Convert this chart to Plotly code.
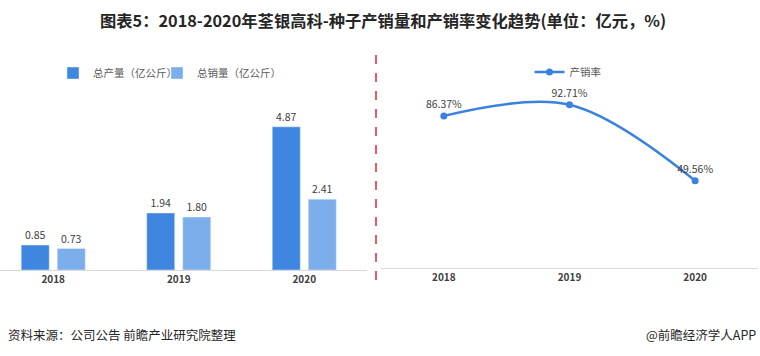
import plotly.graph_objects as go

years = ["2018", "2019", "2020"]
production = [0.85, 1.94, 4.87]
sales = [0.73, 1.80, 2.41]
rate = [86.37, 92.71, 49.56]

W, H = 760, 356
FONT = "Noto Sans CJK SC"

def px_x(p):
    return p / W

def px_y(p):
    return 1 - p / H

fig = go.Figure()

fig.add_trace(go.Bar(
    x=years, y=production, name="总产量（亿公斤）",
    marker=dict(color="#3f86e0"), text=[f"{v:.2f}" for v in production],
    textposition="outside", cliponaxis=False,
    textfont=dict(size=10.5, color="#404040", family=FONT),
    xaxis="x", yaxis="y", legend="legend",
))
fig.add_trace(go.Bar(
    x=years, y=sales, name="总销量（亿公斤）",
    marker=dict(color="#7daeec"), text=[f"{v:.2f}" for v in sales],
    textposition="outside", cliponaxis=False,
    textfont=dict(size=10.5, color="#404040", family=FONT),
    xaxis="x", yaxis="y", legend="legend3",
))
fig.add_trace(go.Scatter(
    x=years, y=rate, name="产销率", mode="lines+markers+text",
    line=dict(color="#3b82e0", width=2.5, shape="spline", smoothing=1.0),
    marker=dict(size=7, color="#3b82e0"),
    text=[f"{v:.2f}%" for v in rate], textposition="top center",
    textfont=dict(size=10.5, color="#404040", family=FONT),
    cliponaxis=False,
    xaxis="x2", yaxis="y2", legend="legend2",
))

tickfont = dict(size=10, color="#404040", family=FONT, weight="bold")
legfont = dict(size=10.5, color="#595959")

fig.update_layout(
    width=W, height=H,
    margin=dict(l=0, r=0, t=0, b=0),
    paper_bgcolor="white", plot_bgcolor="white",
    font=dict(family=FONT, color="#404040"),
    barmode="group", bargap=0.426, bargroupgap=0.222,
    showlegend=True,
    xaxis=dict(domain=[px_x(0), px_x(367)], range=[-0.424, 2.5], type="category",
               showline=True, linecolor="#d9d9d9", linewidth=1, ticks="",
               tickfont=tickfont,
               showgrid=False, zeroline=False, anchor="y", fixedrange=True),
    yaxis=dict(domain=[px_y(270), px_y(60)], range=[0, 210 / 29.4], visible=False,
               showgrid=False, zeroline=False, anchor="x"),
    xaxis2=dict(domain=[px_x(381), px_x(758)], range=[-0.5, 2.5], type="category",
                showline=True, linecolor="#d9d9d9", linewidth=1, ticks="",
                tickfont=tickfont,
                showgrid=False, zeroline=False, anchor="y2"),
    yaxis2=dict(domain=[px_y(268), px_y(60)], range=[0, 208 / 1.761], visible=False,
                showgrid=False, zeroline=False, anchor="x2"),
    legend=dict(orientation="h", x=px_x(53), xanchor="left", y=px_y(73), yanchor="middle",
                font=legfont, itemwidth=30, bgcolor="rgba(0,0,0,0)"),
    legend3=dict(orientation="h", x=px_x(157), xanchor="left", y=px_y(73), yanchor="middle",
                 font=legfont, itemwidth=30, bgcolor="rgba(0,0,0,0)"),
    legend2=dict(orientation="h", x=px_x(568), xanchor="center", y=px_y(72), yanchor="middle",
                 font=legfont, itemwidth=30, bgcolor="rgba(0,0,0,0)"),
    annotations=[
        dict(text="<b>图表5：2018-2020年荃银高科-种子产销量和产销率变化趋势(单位：亿元，%)</b>",
             x=px_x(383), y=px_y(20), xref="paper", yref="paper",
             xanchor="center", yanchor="middle", showarrow=False,
             font=dict(size=16.3, color="#262626", family=FONT)),
        dict(text="资料来源：公司公告 前瞻产业研究院整理",
             x=px_x(6), y=px_y(334), xref="paper", yref="paper",
             xanchor="left", yanchor="middle", showarrow=False,
             font=dict(size=12.5, color="#262626", family=FONT)),
        dict(text="@前瞻经济学人APP",
             x=px_x(758), y=px_y(334), xref="paper", yref="paper",
             xanchor="right", yanchor="middle", showarrow=False,
             font=dict(size=12.5, color="#262626", family=FONT)),
    ],
    shapes=[
        dict(type="line", xref="paper", yref="paper",
             x0=px_x(376), x1=px_x(376), y0=px_y(55), y1=px_y(284),
             line=dict(color="#e8262b", width=1.5, dash="dash")),
    ],
)

fig.write_html("out.html", config={"displayModeBar": False},
               post_script="document.body.style.margin='0';document.body.style.overflow='hidden';")
